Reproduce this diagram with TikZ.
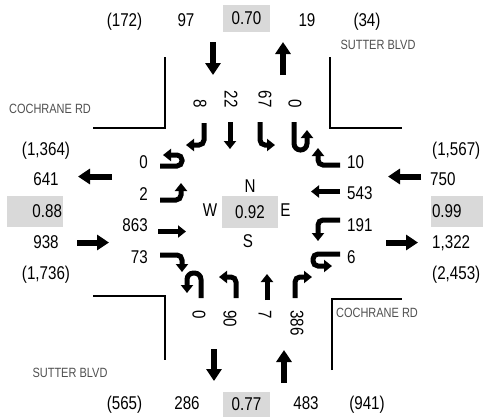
\documentclass[tikz,border=0pt]{standalone}
\usepackage{fontspec}
\setmainfont{Liberation Sans}[FakeStretch=0.82]
\usepackage{xcolor}
\usepackage{tikz}
\usetikzlibrary{arrows.meta}
\definecolor{boxgray}{RGB}{217,217,217}
\definecolor{streetgray}{RGB}{80,80,80}

\begin{document}
\begin{tikzpicture}[x=1pt, y=-1pt,
    every node/.style={inner sep=0pt, font=\fontsize{18.5}{22}\selectfont},
    street/.style={font=\fontsize{13.4}{16}\selectfont, text=streetgray},
    rot/.style={rotate=-90},
    valbox/.style={fill=boxgray, minimum width=56pt, minimum height=31pt},
    curb/.style={line width=1.6pt},
    lane/.style={line width=5pt, rounded corners=5pt, -{Triangle[width=12pt,length=8pt]}},
    flow/.style={line width=6pt, -{Triangle[width=15pt,length=12pt]}}
]
\useasboundingbox (0,0) rectangle (483,416);

% curb corners
\draw[curb] (93,128) -- (165,128) -- (165,57);
\draw[curb] (330,57) -- (330,128) -- (402,128);
\draw[curb] (93,296) -- (165,296) -- (165,360);
\draw[curb] (332,370) -- (332,299) -- (402,299);

% street names
\node[street] (st-n) at (378,45) {SUTTER BLVD};
\node[street] (st-w) at (50,109) {COCHRANE RD};
\node[street] (st-e) at (377,313) {COCHRANE RD};
\node[street] (st-s) at (70,373) {SUTTER BLVD};

% north leg
\node[anchor=base] (n-pkin) at (124.5,26) {(172)};
\node[anchor=base] (n-in) at (186,26) {97};
\node[valbox, minimum width=47pt, minimum height=27pt] (n-phf) at (246.5,18.5) {0.70};
\node[anchor=base] (n-out) at (307,26) {19};
\node[anchor=base] (n-pkout) at (367,26) {(34)};
\draw[flow] (213,42) -- (213,75);
\draw[flow] (283,75) -- (283,42);

% south leg
\node[anchor=base] (s-pkout) at (124.5,409) {(565)};
\node[anchor=base] (s-out) at (187,409) {286};
\node[valbox, minimum width=47pt, minimum height=25pt] (s-phf) at (246.5,404.5) {0.77};
\node[anchor=base] (s-in) at (306,409) {483};
\node[anchor=base] (s-pkin) at (367,409) {(941)};
\draw[flow] (214,349) -- (214,381);
\draw[flow] (284,383) -- (284,350);

% west leg
\node[anchor=base] (w-pkout) at (46,155) {(1,364)};
\node[anchor=base] (w-out) at (46,185) {641};
\node[valbox, text width=54pt, align=right] (w-phf) at (35,211.5) {0.88};
\node[anchor=base] (w-in) at (46,248) {938};
\node[anchor=base] (w-pkin) at (46,279.5) {(1,736)};
\draw[flow] (112,176.5) -- (78,176.5);
\draw[flow] (77,242.5) -- (109,242.5);

% east leg
\node[anchor=base west] (e-pkin) at (432,155) {(1,567)};
\node[anchor=base west] (e-in) at (430,185) {750};
\node[valbox, minimum width=52pt, text width=50pt, align=left] (e-phf) at (457,211.5) {0.99};
\node[anchor=base west] (e-out) at (432,248) {1,322};
\node[anchor=base west] (e-pkout) at (432,279.5) {(2,453)};
\draw[flow] (421,176.5) -- (388,176.5);
\draw[flow] (386,242.5) -- (418,242.5);

% intersection
\node[anchor=base] (c-n) at (250,192.5) {N};
\node[valbox, minimum height=32pt] (c-phf) at (250,212) {0.92};
\node[anchor=base] (c-w) at (210,216.5) {W};
\node[anchor=base] (c-e) at (285.5,216.5) {E};
\node[anchor=base] (c-s) at (248,247) {S};

% southbound lanes
\node[rot, anchor=east] (sb-r) at (200,108) {8};
\node[rot, anchor=east] (sb-t) at (231,108) {22};
\node[rot, anchor=east] (sb-l) at (265,108) {67};
\node[rot, anchor=east] (sb-u) at (295,108) {0};
\draw[lane] (204,123) -- (204,145) -- (186,145);
\draw[lane] (230,122) -- (230,149);
\draw[lane] (260,122) -- (260,145) -- (275,145);
\draw[lane, rounded corners=6.5pt] (294,122) -- (294,150) -- (307,150) -- (307,130);

% eastbound lanes
\node[anchor=base east] (eb-u) at (148,168.5) {0};
\node[anchor=base east] (eb-l) at (148,200.5) {2};
\node[anchor=base east] (eb-t) at (148,231.5) {863};
\node[anchor=base east] (eb-r) at (148,263.5) {73};
\draw[lane] (160,166) -- (182,166) -- (182,155) -- (163,155);
\draw[lane] (160,200) -- (181,200) -- (181,183);
\draw[lane] (158,231.5) -- (186,231.5);
\draw[lane] (160,255) -- (182,255) -- (182,272);

% westbound lanes
\node[anchor=base west] (wb-r) at (347,168.5) {10};
\node[anchor=base west] (wb-t) at (347,199.5) {543};
\node[anchor=base west] (wb-l) at (347,231.5) {191};
\node[anchor=base west] (wb-u) at (347,263.5) {6};
\draw[lane] (340,165) -- (318,165) -- (318,148);
\draw[lane] (340,191.5) -- (311,191.5);
\draw[lane] (340,220) -- (318,220) -- (318,241);
\draw[lane] (340,254) -- (313,254) -- (313,266) -- (332,266);

% northbound lanes
\node[rot, anchor=west] (nb-u) at (199,310) {0};
\node[rot, anchor=west] (nb-l) at (230,310) {90};
\node[rot, anchor=west] (nb-t) at (265,310) {7};
\node[rot, anchor=west] (nb-r) at (297,310) {386};
\draw[lane, rounded corners=6.5pt] (201,298) -- (201,273) -- (187,273) -- (187,293);
\draw[lane] (236,298) -- (236,277) -- (219,277);
\draw[lane] (267,300) -- (267,274);
\draw[lane] (295,298) -- (295,277) -- (312,277);
\end{tikzpicture}
\end{document}
